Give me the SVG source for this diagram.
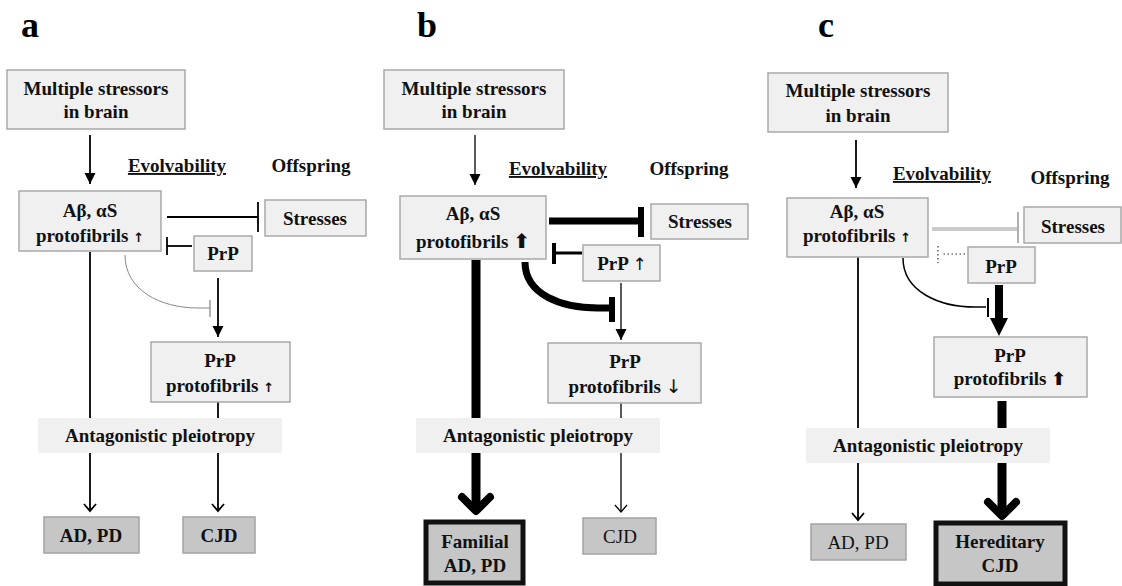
<svg xmlns="http://www.w3.org/2000/svg" width="1122" height="586" viewBox="0 0 1122 586">
<defs>
<style>
.t{font-family:"Liberation Serif","Times New Roman",serif;font-weight:bold;font-size:19px;text-anchor:middle;fill:#111}
.r{font-weight:normal}
.lab{font-family:"Liberation Serif","Times New Roman",serif;font-weight:bold;font-size:36px;fill:#000}
.box{fill:#f0f0f0;stroke:#a9a9a9;stroke-width:1.5}
.out{fill:#c6c6c6;stroke:#a3a3a3;stroke-width:1.5}
.thick{fill:#c6c6c6;stroke:#111;stroke-width:5}
.band{fill:#f0f0f0;stroke:none}
.ln{fill:none;stroke:#000;stroke-width:1.8}
.big{font-family:"DejaVu Sans",sans-serif;font-weight:bold;fill:#111}
.sm{font-family:"DejaVu Sans",sans-serif;font-weight:bold;font-size:13px;fill:#111}
.ar{font-family:"DejaVu Sans",sans-serif;font-weight:normal;fill:#111}
</style>
<marker id="ah" markerUnits="userSpaceOnUse" markerWidth="12" markerHeight="12" refX="11" refY="6" orient="auto" viewBox="0 0 12 12">
<path d="M0,0.5 L11,6 L0,11.5 Z" fill="#000"/>
</marker>
</defs>

<text class="lab" x="21" y="37">a</text>
<text class="lab" x="417" y="37">b</text>
<text class="lab" x="818" y="37">c</text>

<g id="connectors">
<!-- panel a -->
<line class="ln" x1="90" y1="135" x2="90" y2="184" marker-end="url(#ah)"/>
<line class="ln" x1="90" y1="252" x2="90" y2="511"/>
<polyline class="ln" points="84,504 90,511 96,504"/>
<line class="ln" x1="167" y1="217" x2="258" y2="217"/>
<line class="ln" x1="258" y1="202" x2="258" y2="232"/>
<line class="ln" x1="192" y1="246" x2="167" y2="246"/>
<line class="ln" x1="167" y1="237" x2="167" y2="255"/>
<line class="ln" x1="218" y1="278" x2="218" y2="337" marker-end="url(#ah)"/>
<path d="M125,255 C125,290 160,308 198,308 L210,308" fill="none" stroke="#888" stroke-width="1"/>
<line x1="210" y1="300" x2="210" y2="317" stroke="#999" stroke-width="1.5"/>
<line class="ln" x1="218" y1="402" x2="218" y2="511"/>
<polyline class="ln" points="212,504 218,511 224,504"/>

<!-- panel b -->
<line x1="475" y1="135" x2="475" y2="185" stroke="#000" stroke-width="1.3" marker-end="url(#ah)"/>
<line x1="549" y1="221" x2="638" y2="221" stroke="#000" stroke-width="7"/>
<line x1="641" y1="207" x2="641" y2="237" stroke="#000" stroke-width="6"/>
<line x1="582" y1="253" x2="555" y2="253" stroke="#000" stroke-width="3"/>
<line x1="554" y1="243" x2="554" y2="264" stroke="#000" stroke-width="4"/>
<path d="M525,262 C525,295 562,308 598,308 L610,308" fill="none" stroke="#000" stroke-width="7"/>
<line x1="612" y1="297" x2="612" y2="322" stroke="#000" stroke-width="6"/>
<line x1="621" y1="283" x2="621" y2="340" stroke="#000" stroke-width="1.3" marker-end="url(#ah)"/>
<line x1="476" y1="260" x2="476" y2="509" stroke="#000" stroke-width="9"/>
<polyline points="462,497 476,511 490,497" fill="none" stroke="#000" stroke-width="8" stroke-linejoin="round" stroke-linecap="round"/>
<line x1="621" y1="403" x2="621" y2="512" stroke="#000" stroke-width="1.3"/>
<polyline points="615,505 621,512 627,505" fill="none" stroke="#000" stroke-width="1.3"/>

<!-- panel c -->
<line class="ln" x1="856" y1="140" x2="856" y2="188" marker-end="url(#ah)"/>
<line x1="932" y1="229" x2="1017" y2="229" stroke="#b8b8b8" stroke-width="3.5"/>
<line x1="932" y1="229" x2="1017" y2="229" stroke="#dedede" stroke-width="1"/>
<line x1="1018" y1="212" x2="1018" y2="243" stroke="#b0b0b0" stroke-width="2"/>
<line x1="965" y1="254" x2="941" y2="254" stroke="#333" stroke-width="1.2" stroke-dasharray="1.5,2.5"/>
<line x1="938" y1="246" x2="938" y2="263" stroke="#333" stroke-width="1.2" stroke-dasharray="1.5,2.5"/>
<path d="M903,258 C903,292 940,307 975,307 L986,307" fill="none" stroke="#000" stroke-width="1.5"/>
<line x1="988" y1="298" x2="988" y2="317" stroke="#000" stroke-width="2"/>
<line x1="999" y1="285" x2="999" y2="320" stroke="#000" stroke-width="8"/>
<path d="M990,318 L1008,318 L999,336 Z" fill="#000"/>
<line class="ln" x1="858" y1="257" x2="858" y2="520"/>
<polyline class="ln" points="852,513 858,520 864,513"/>
<line x1="1002" y1="401" x2="1002" y2="514" stroke="#000" stroke-width="9"/>
<polyline points="988,502 1002,516 1016,502" fill="none" stroke="#000" stroke-width="8" stroke-linejoin="round" stroke-linecap="round"/>
</g>

<!-- panel a nodes -->
<g id="a-stressors"><rect class="box" x="7" y="70" width="178" height="59"/>
<text class="t" x="96" y="95">Multiple stressors</text><text class="t" x="96" y="118">in brain</text></g>
<g id="a-evolvability"><text class="t" x="177" y="172" text-decoration="underline">Evolvability</text></g>
<g id="a-offspring"><text class="t" x="311" y="172">Offspring</text></g>
<g id="a-abeta"><rect class="box" x="19" y="191" width="142" height="60"/>
<text class="t" x="90" y="217">Aβ, αS</text><text class="t" x="90" y="242">protofibrils <tspan class="sm">↑</tspan></text></g>
<g id="a-stresses"><rect class="box" x="265" y="200" width="101" height="36"/>
<text class="t" x="315" y="225">Stresses</text></g>
<g id="a-prp"><rect class="box" x="194" y="236" width="58" height="35"/>
<text class="t" x="223" y="260">PrP</text></g>
<g id="a-prpfib"><rect class="box" x="151" y="342" width="139" height="60"/>
<text class="t" x="220" y="367">PrP</text><text class="t" x="220" y="392">protofibrils <tspan class="sm">↑</tspan></text></g>
<g id="a-band"><rect class="band" x="38" y="418" width="244" height="35"/>
<text class="t" x="160" y="442">Antagonistic pleiotropy</text></g>
<g id="a-adpd"><rect class="out" x="44" y="517" width="95" height="36"/>
<text class="t" x="91" y="542">AD, PD</text></g>
<g id="a-cjd"><rect class="out" x="183" y="517" width="72" height="36"/>
<text class="t" x="219" y="542">CJD</text></g>

<!-- panel b nodes -->
<g id="b-stressors"><rect class="box" x="384" y="70" width="180" height="59"/>
<text class="t" x="474" y="95">Multiple stressors</text><text class="t" x="474" y="118">in brain</text></g>
<g id="b-evolvability"><text class="t" x="558" y="175" text-decoration="underline">Evolvability</text></g>
<g id="b-offspring"><text class="t" x="689" y="175">Offspring</text></g>
<g id="b-abeta"><rect class="box" x="400" y="196" width="146" height="63"/>
<text class="t" x="473" y="220">Aβ, αS</text><text class="t" x="473" y="248">protofibrils <tspan class="big" font-size="20">⬆</tspan></text></g>
<g id="b-stresses"><rect class="box" x="651" y="204" width="97" height="35"/>
<text class="t" x="700" y="228">Stresses</text></g>
<g id="b-prp"><rect class="box" x="583" y="245" width="77" height="36"/>
<text class="t" x="622" y="270">PrP <tspan class="ar" font-size="17">↑</tspan></text></g>
<g id="b-prpfib"><rect class="box" x="548" y="343" width="153" height="60"/>
<text class="t" x="625" y="368">PrP</text><text class="t" x="625" y="393">protofibrils <tspan class="ar" font-size="19">↓</tspan></text></g>
<g id="b-band"><rect class="band" x="416" y="418" width="244" height="35"/>
<text class="t" x="538" y="442">Antagonistic pleiotropy</text></g>
<g id="b-familial"><rect class="thick" x="426" y="522" width="97" height="61"/>
<text class="t" x="475" y="548">Familial</text><text class="t" x="475" y="572">AD, PD</text></g>
<g id="b-cjd"><rect class="out" x="583" y="518" width="73" height="36"/>
<text class="t r" x="620" y="543">CJD</text></g>

<!-- panel c nodes -->
<g id="c-stressors"><rect class="box" x="768" y="73" width="180" height="59"/>
<text class="t" x="858" y="97">Multiple stressors</text><text class="t" x="858" y="122">in brain</text></g>
<g id="c-evolvability"><text class="t" x="942" y="180" text-decoration="underline">Evolvability</text></g>
<g id="c-offspring"><text class="t" x="1070" y="184">Offspring</text></g>
<g id="c-abeta"><rect class="box" x="787" y="198" width="141" height="59"/>
<text class="t" x="857" y="218">Aβ, αS</text><text class="t" x="857" y="242">protofibrils <tspan class="sm">↑</tspan></text></g>
<g id="c-stresses"><rect class="box" x="1024" y="207" width="97" height="36"/>
<text class="t" x="1073" y="233">Stresses</text></g>
<g id="c-prp"><rect class="box" x="968" y="247" width="67" height="36"/>
<text class="t" x="1001" y="273">PrP</text></g>
<g id="c-prpfib"><rect class="box" x="934" y="337" width="153" height="60"/>
<text class="t" x="1010" y="362">PrP</text><text class="t" x="1010" y="385">protofibrils <tspan class="big" font-size="18">⬆</tspan></text></g>
<g id="c-band"><rect class="band" x="806" y="428" width="244" height="35"/>
<text class="t" x="928" y="452">Antagonistic pleiotropy</text></g>
<g id="c-adpd"><rect class="out" x="811" y="524" width="95" height="36"/>
<text class="t r" x="858" y="549">AD, PD</text></g>
<g id="c-hereditary"><rect class="thick" x="936" y="523" width="129" height="61"/>
<text class="t" x="1000" y="548">Hereditary</text><text class="t" x="1000" y="572">CJD</text></g>
</svg>
